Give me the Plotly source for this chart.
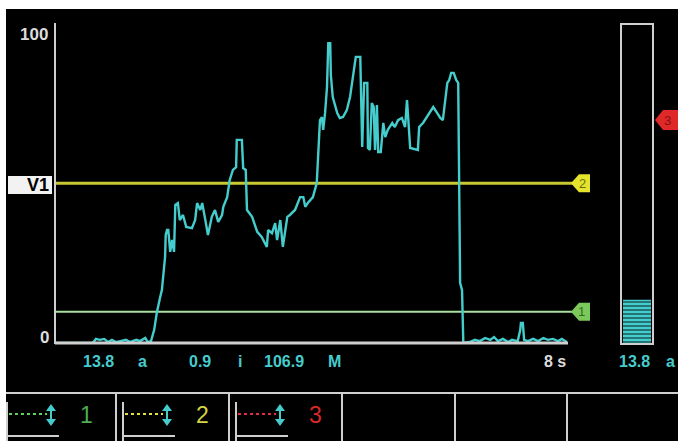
import plotly.graph_objects as go

W, H = 678, 441

# ---- data (time in s, level 0..100) ----
time_s = [0, 0.59, 0.64, 0.70, 0.77, 0.83, 0.89, 0.95, 1.02, 1.11, 1.17, 1.27, 1.33, 1.41, 1.45, 1.50,
          1.55, 1.59, 1.64, 1.67, 1.70, 1.72, 1.73, 1.75, 1.77, 1.80, 1.83, 1.86, 1.88, 1.92, 1.95, 2.00,
          2.05, 2.14, 2.19, 2.22, 2.27, 2.30, 2.34, 2.39, 2.45, 2.50, 2.55, 2.61, 2.63, 2.69, 2.73, 2.78,
          2.83, 2.84, 2.92, 2.94, 2.98, 3.00, 3.08, 3.16, 3.23, 3.31, 3.33, 3.39, 3.44, 3.47, 3.52, 3.56,
          3.63, 3.67, 3.75, 3.83, 3.88, 3.91, 3.95, 4.03, 4.09, 4.11, 4.14, 4.17, 4.19, 4.22, 4.25, 4.27,
          4.30, 4.31, 4.34, 4.41, 4.45, 4.50, 4.56, 4.61, 4.66, 4.70, 4.77, 4.78, 4.80, 4.83, 4.88, 4.89,
          4.92, 4.95, 4.98, 5.00, 5.03, 5.05, 5.09, 5.13, 5.16, 5.20, 5.27, 5.31, 5.36, 5.42, 5.47, 5.50,
          5.53, 5.55, 5.67, 5.69, 5.75, 5.81, 5.86, 5.91, 5.97, 6.02, 6.06, 6.13, 6.16, 6.19, 6.23, 6.27,
          6.30, 6.31, 6.33, 6.36, 6.38, 6.48, 6.56, 6.64, 6.72, 6.80, 6.86, 6.92, 7.00, 7.08, 7.14, 7.23,
          7.27, 7.28, 7.31, 7.33, 7.39, 7.47, 7.55, 7.63, 7.70, 7.78, 7.86, 7.92, 8.0]
level = [0, 0, 1.3, 1.0, 1.3, 0.3, 1.0, 0.3, 0.6, 1.0, 0.3, 1.0, 0.6, 1.6, 0.3, 0.6,
         4.2, 9.6, 14.4, 16.9, 23.3, 27.5, 34.5, 36.1, 36.1, 29.1, 32.9, 29.1, 44.1, 44.7, 39.3, 40.9,
         37.1, 36.7, 39.3, 44.7, 42.5, 44.7, 40.3, 34.5, 40.3, 42.5, 38.7, 40.9, 43.5, 46.6, 52.1, 55.3,
         56.2, 64.9, 64.9, 55.9, 55.3, 42.5, 40.3, 35.5, 33.9, 30.7, 36.1, 35.1, 38.3, 32.9, 39.3, 30.7,
         40.3, 40.9, 42.5, 46.6, 46.6, 43.5, 44.7, 46.6, 51.1, 59.4, 71.2, 72.2, 68.1, 73.5, 81.8, 95.8,
         95.8, 85.6, 78.6, 73.5, 71.9, 72.2, 74.4, 78.6, 85.0, 91.4, 91.4, 84.0, 62.6, 83.1, 83.1, 62.3,
         61.7, 76.7, 75.4, 61.7, 76.0, 61.0, 61.0, 70.3, 65.8, 68.1, 70.3, 69.0, 71.2, 71.9, 69.0, 77.6,
         69.0, 62.3, 61.7, 69.0, 70.3, 72.2, 73.5, 75.4, 73.5, 71.9, 71.2, 83.1, 84.0, 86.3, 86.3, 84.0,
         83.1, 52.1, 19.2, 16.9, 0, 0.3, 1.0, 0.6, 1.6, 1.0, 1.9, 0.6, 1.3, 0.3, 1.0, 0.6,
         4.2, 6.4, 6.4, 1.0, 0.6, 1.3, 0.6, 1.6, 1.0, 1.3, 0.6, 1.3, 0.3]

thresholds = [10, 51]          # cursor 1 (green), cursor 2 (yellow) on main scale
threshold3 = 70                # cursor 3 (red) on bar scale
bar_value = [13.8]
y_ticks = ["100", "0"]
readouts = ["13.8", "a", "0.9", "i", "106.9", "M", "8 s", "13.8", "a"]
cell_labels = ["1", "2", "3"]

CYAN = "#45cccc"
GRAY = "#cfcfcf"
FONT = "Liberation Sans, Arial"


def X(px):
    return px / W


def Y(py):
    return 1 - py / H


def poly(pts, fill):
    path = "M " + " L ".join(f"{X(a):.5f},{Y(b):.5f}" for a, b in pts) + " Z"
    return dict(type="path", xref="paper", yref="paper", path=path, fillcolor=fill, line=dict(width=0))


fig = go.Figure()
fig.add_trace(go.Scatter(x=time_s, y=level, mode="lines",
                         line=dict(color=CYAN, width=2.4), hoverinfo="skip",
                         showlegend=False, xaxis="x", yaxis="y"))
fig.add_trace(go.Bar(x=[0], y=bar_value, width=1, showlegend=False,
                     marker=dict(color=CYAN, line=dict(width=0),
                                 pattern=dict(shape="-", size=4, solidity=0.3,
                                              fgcolor="#0b3b3b", bgcolor=CYAN, fillmode="replace")),
                     xaxis="x2", yaxis="y2", hoverinfo="skip"))

shapes = []
# white frame strips
shapes.append(dict(type="rect", xref="paper", yref="paper", x0=0, x1=1, y0=Y(9), y1=1,
                   fillcolor="white", line=dict(width=0), layer="above"))
shapes.append(dict(type="rect", xref="paper", yref="paper", x0=0, x1=X(6), y0=0, y1=1,
                   fillcolor="white", line=dict(width=0), layer="above"))
# axes
shapes.append(dict(type="line", xref="paper", yref="paper", x0=X(55), x1=X(55), y0=Y(23), y1=Y(344),
                   line=dict(color=GRAY, width=2)))
shapes.append(dict(type="line", xref="paper", yref="paper", x0=X(55), x1=X(568), y0=Y(343), y1=Y(343),
                   line=dict(color=GRAY, width=3)))
# threshold lines
shapes.append(dict(type="line", xref="paper", yref="y", x0=X(55), x1=X(573), y0=thresholds[0], y1=thresholds[0],
                   line=dict(color="#a8e0a0", width=2), layer="below"))
shapes.append(dict(type="line", xref="paper", yref="y", x0=X(55), x1=X(573), y0=thresholds[1], y1=thresholds[1],
                   line=dict(color="#c8c832", width=3), layer="below"))


def pent(x_tip, py_c, x_right, half, fill):
    x_mid = x_tip + 8
    return poly([(x_tip, py_c), (x_mid, py_c - half), (x_right, py_c - half),
                 (x_right, py_c + half), (x_mid, py_c + half)], fill)


py_g = 343 - thresholds[0] * 3.13
py_y = 343 - thresholds[1] * 3.13
py_r = 344 - threshold3 * 3.2
shapes.append(pent(571, py_g, 590, 9, "#7cc85a"))
shapes.append(pent(571, py_y, 590, 9, "#e4e42c"))
shapes.append(pent(655, py_r, 678, 10, "#e02828"))

# right level bar frame
shapes.append(dict(type="rect", xref="paper", yref="paper", x0=X(621), x1=X(653), y0=Y(344), y1=Y(24),
                   line=dict(color=GRAY, width=2)))

# V1 box
shapes.append(dict(type="rect", xref="paper", yref="paper", x0=X(8), x1=X(52), y0=Y(194), y1=Y(176),
                   fillcolor="#f2f2f2", line=dict(width=0)))

# bottom panel
shapes.append(dict(type="line", xref="paper", yref="paper", x0=X(6), x1=1, y0=Y(393), y1=Y(393),
                   line=dict(color=GRAY, width=2)))
for dx in [116, 229, 342, 455, 567]:
    shapes.append(dict(type="line", xref="paper", yref="paper", x0=X(dx), x1=X(dx), y0=Y(393), y1=0,
                       line=dict(color=GRAY, width=2)))

cell_colors = ["#5fd060", "#e0e040", "#e03048"]
digit_colors = ["#4caf50", "#d4d444", "#d82828"]
offsets = [7, 123, 236]
annotations = []
for ox, col, dcol, lab in zip(offsets, cell_colors, digit_colors, cell_labels):
    shapes.append(dict(type="line", xref="paper", yref="paper", x0=X(ox), x1=X(ox), y0=Y(402), y1=0,
                       line=dict(color=GRAY, width=2)))
    shapes.append(dict(type="line", xref="paper", yref="paper", x0=X(ox), x1=X(ox + 52), y0=Y(436), y1=Y(436),
                       line=dict(color=GRAY, width=2)))
    shapes.append(dict(type="line", xref="paper", yref="paper", x0=X(ox + 2), x1=X(ox + 40), y0=Y(414), y1=Y(414),
                       line=dict(color=col, width=2, dash="dot")))
    ax = ox + 44
    shapes.append(poly([(ax, 404), (ax + 5, 411), (ax - 5, 411)], CYAN))
    shapes.append(poly([(ax, 426), (ax + 5, 419), (ax - 5, 419)], CYAN))
    shapes.append(dict(type="line", xref="paper", yref="paper", x0=X(ax), x1=X(ax), y0=Y(410), y1=Y(420),
                       line=dict(color=CYAN, width=2)))
    annotations.append(dict(xref="paper", yref="paper", x=X(ox + 79), y=Y(415), text=lab, showarrow=False,
                            font=dict(family=FONT, size=23, color=dcol),
                            xanchor="center", yanchor="middle"))


def b(s):
    return "<b>" + s + "</b>"


annotations += [
    dict(x=X(50), y=Y(34), text=b(y_ticks[0]), xanchor="right", font=dict(size=17, color="#dcdcdc")),
    dict(x=X(51), y=Y(337), text=b(y_ticks[1]), xanchor="right", font=dict(size=17, color="#dcdcdc")),
    dict(x=X(51), y=Y(185), text="<b>V1</b>", xanchor="right", font=dict(size=18, color="#000000")),
    dict(x=X(581), y=Y(py_g), text="1", xanchor="center", font=dict(size=13, color="#2e6e1e")),
    dict(x=X(582), y=Y(py_y), text="2", xanchor="center", font=dict(size=13, color="#6e6e10")),
    dict(x=X(667), y=Y(py_r), text="3", xanchor="center", font=dict(size=13, color="#8a1010")),
    dict(x=X(81), y=Y(361), text=b(readouts[0]), xanchor="left", font=dict(size=16, color=CYAN)),
    dict(x=X(142), y=Y(361), text=b(readouts[1]), xanchor="center", font=dict(size=16, color=CYAN)),
    dict(x=X(187), y=Y(361), text=b(readouts[2]), xanchor="left", font=dict(size=16, color=CYAN)),
    dict(x=X(240), y=Y(361), text=b(readouts[3]), xanchor="center", font=dict(size=16, color=CYAN)),
    dict(x=X(262), y=Y(361), text=b(readouts[4]), xanchor="left", font=dict(size=16, color=CYAN)),
    dict(x=X(334), y=Y(361), text=b(readouts[5]), xanchor="center", font=dict(size=16, color=CYAN)),
    dict(x=X(568), y=Y(361), text=b(readouts[6]), xanchor="right", font=dict(size=16, color="#dcdcdc")),
    dict(x=X(617), y=Y(361), text=b(readouts[7]), xanchor="left", font=dict(size=16, color=CYAN)),
    dict(x=X(670), y=Y(361), text=b(readouts[8]), xanchor="center", font=dict(size=16, color=CYAN)),
]
for a in annotations[-15:]:
    a.update(xref="paper", yref="paper", showarrow=False, yanchor="middle")
    a["font"]["family"] = FONT

fig.update_layout(
    width=W, height=H, margin=dict(l=0, r=0, t=0, b=0),
    paper_bgcolor="black", plot_bgcolor="black",
    xaxis=dict(domain=[X(55), X(567)], range=[0, 8], visible=False, fixedrange=True),
    yaxis=dict(domain=[Y(343), Y(30)], range=[0, 100], visible=False, fixedrange=True),
    xaxis2=dict(domain=[X(623), X(651)], range=[-0.5, 0.5], visible=False, anchor="y2"),
    yaxis2=dict(domain=[Y(344), Y(24)], range=[0, 100], visible=False, anchor="x2"),
    shapes=shapes, annotations=annotations, showlegend=False,
    font=dict(family=FONT),
)

fig.write_html("out.html")
